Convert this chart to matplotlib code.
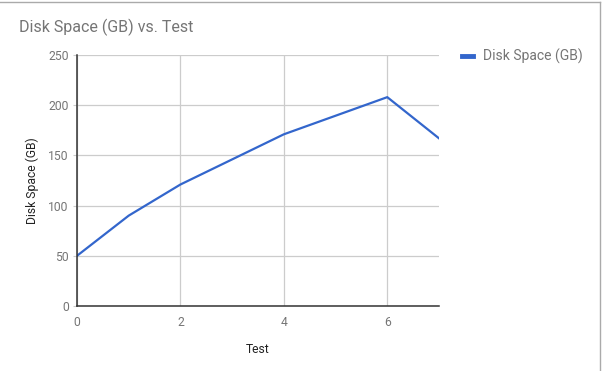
import matplotlib
matplotlib.use('Agg')
import matplotlib.pyplot as plt
from matplotlib.lines import Line2D

plt.rcParams['font.family'] = ['Roboto', 'DejaVu Sans']

test = [0, 1, 2, 4, 6, 7]
disk_space = [50, 90, 121, 171, 208, 167]
xticks = [0, 2, 4, 6]
yticks = [0, 50, 100, 150, 200, 250]

fig = plt.figure(figsize=(6.02, 3.71), dpi=100)
ax = fig.add_axes([0.1279, 0.1752, 0.6013, 0.6766])

ax.plot(test, disk_space, color='#3366cc', lw=1.6, label='Disk Space (GB)')

ax.set_xlim(0, 7)
ax.set_ylim(0, 250)
ax.set_xticks(xticks)
ax.set_yticks(yticks)
ax.grid(True, color='#cccccc', lw=0.9)
ax.set_axisbelow(True)
for s in ['top', 'right']:
    ax.spines[s].set_visible(False)
for s in ['left', 'bottom']:
    ax.spines[s].set_color('#333333')
    ax.spines[s].set_linewidth(1.1)
ax.tick_params(axis='x', length=0, pad=7, labelsize=8.7, labelcolor='#757575')
ax.tick_params(axis='y', length=3, color='#cccccc', pad=3, labelsize=8.7, labelcolor='#757575')

ax.set_xlabel('Test', fontsize=8.7, color='#222222', labelpad=10)
ax.set_ylabel('Disk Space (GB)', fontsize=8.7, color='#222222', labelpad=6.5)

fig.text(19 / 602, 1 - 27 / 371, 'Disk Space (GB) vs. Test', fontsize=11.5,
         color='#757575', va='center', ha='left')

ax.legend(loc='upper left', bbox_to_anchor=(1.03, 1.075), frameon=False,
          fontsize=10, labelcolor='#757575', handlelength=0.8, handletextpad=0.7)
leg = ax.get_legend()
leg.get_lines()[0].set_linewidth(3.5)

# card border
fig.add_artist(Line2D([0, 600 / 602], [1 - 1.5 / 371, 1 - 1.5 / 371], color='#aaaaaa', lw=1))
fig.add_artist(Line2D([600 / 602, 600 / 602], [0, 1 - 1.5 / 371], color='#aaaaaa', lw=1))

fig.savefig('out.png', dpi=100)
